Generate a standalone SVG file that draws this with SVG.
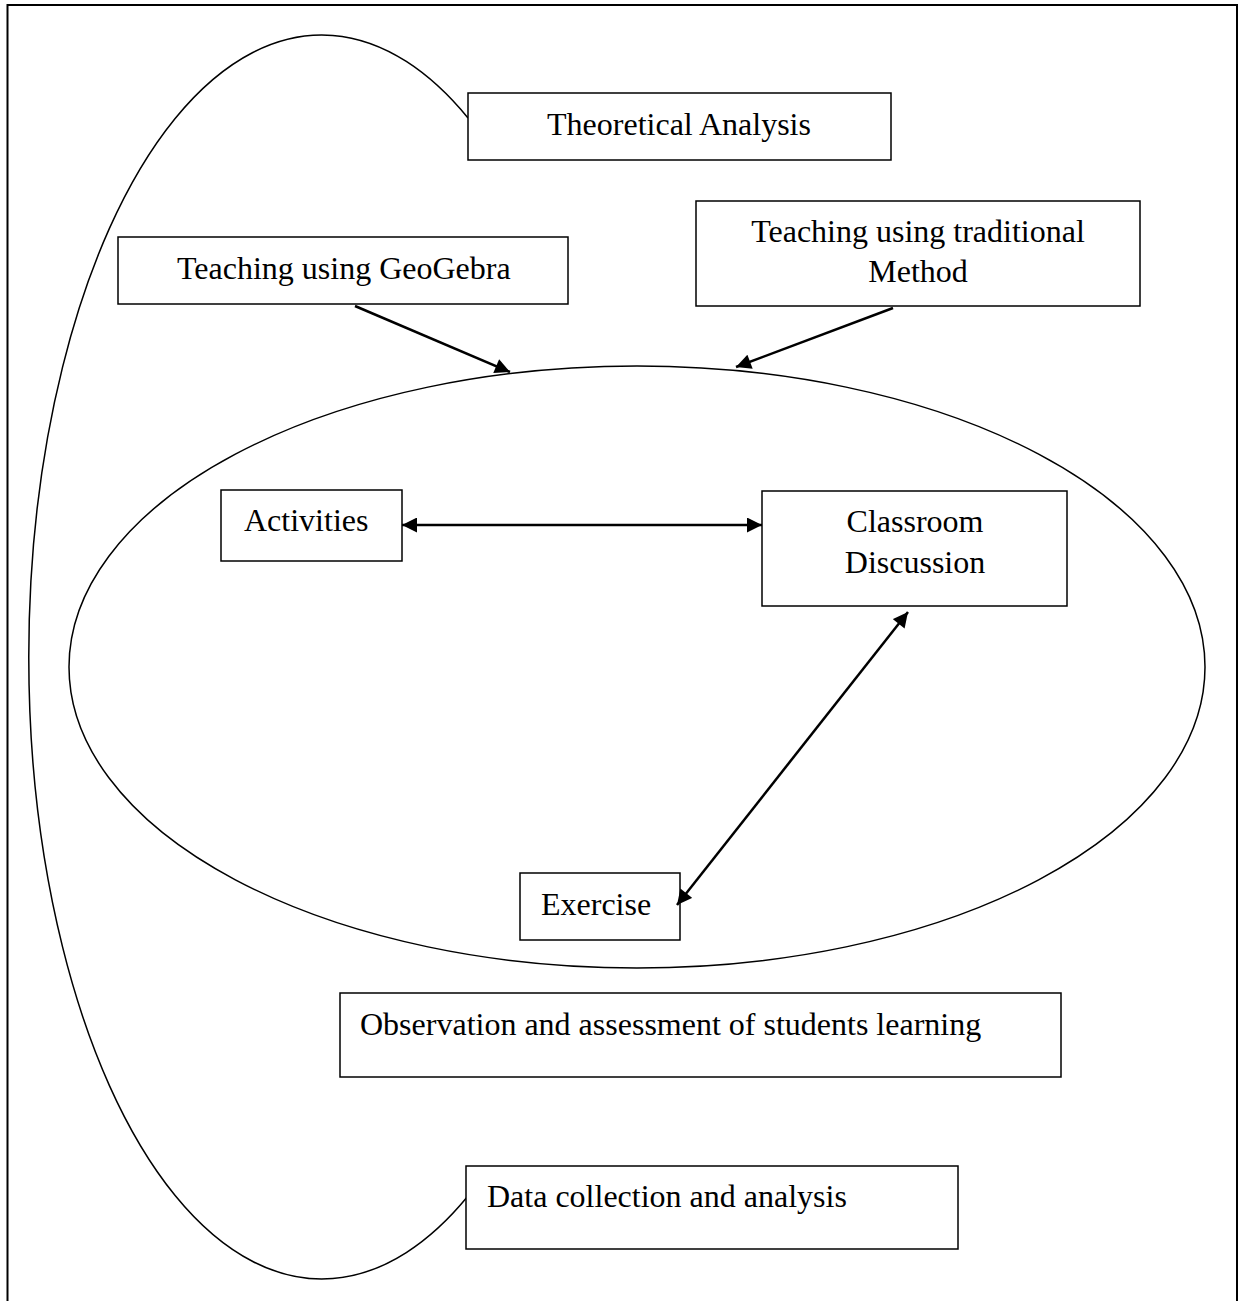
<svg xmlns="http://www.w3.org/2000/svg" width="1246" height="1301" viewBox="0 0 1246 1301">
<style>
.box{fill:#fff;stroke:#000;stroke-width:1.5}
.t{font-family:"Liberation Serif","Times New Roman",serif;font-size:32px;fill:#000}
.c{stroke:#000;stroke-width:2.5;fill:none}
.thin{stroke:#000;stroke-width:1.5;fill:none}
</style>
<defs>
<marker id="ah" viewBox="0 0 10 10" refX="10" refY="5" markerWidth="6.5" markerHeight="6" markerUnits="strokeWidth" orient="auto-start-reverse">
<path d="M0,0 L10,5 L0,10 z" fill="#000"/>
</marker>
</defs>
<rect width="1246" height="1301" fill="#fff"/>
<path d="M7.5,1301 V5 H1237 V1301" fill="none" stroke="#000" stroke-width="2"/>
<g id="outer-loop">
<path class="thin" d="M468,118 A293,622 0 1 0 468,1196"/>
</g>
<g id="ellipse">
<ellipse class="thin" cx="637" cy="667" rx="568" ry="301"/>
</g>
<g id="theoretical">
<rect class="box" x="468" y="93" width="423" height="67"/>
<text class="t" x="679" y="135" text-anchor="middle">Theoretical Analysis</text>
</g>
<g id="geogebra">
<rect class="box" x="118" y="237" width="450" height="67"/>
<text class="t" x="177" y="279">Teaching using GeoGebra</text>
</g>
<g id="traditional">
<rect class="box" x="696" y="201" width="444" height="105"/>
<text class="t" x="918" y="242" text-anchor="middle">Teaching using traditional</text>
<text class="t" x="918" y="282" text-anchor="middle">Method</text>
</g>
<g id="activities">
<rect class="box" x="221" y="490" width="181" height="71"/>
<text class="t" x="244" y="531">Activities</text>
</g>
<g id="classroom">
<rect class="box" x="762" y="491" width="305" height="115"/>
<text class="t" x="915" y="532" text-anchor="middle">Classroom</text>
<text class="t" x="915" y="573" text-anchor="middle">Discussion</text>
</g>
<g id="exercise">
<rect class="box" x="520" y="873" width="160" height="67"/>
<text class="t" x="541" y="915">Exercise</text>
</g>
<g id="observation">
<rect class="box" x="340" y="993" width="721" height="84"/>
<text class="t" x="360" y="1035">Observation and assessment of students learning</text>
</g>
<g id="datacollection">
<rect class="box" x="466" y="1166" width="492" height="83"/>
<text class="t" x="487" y="1207">Data collection and analysis</text>
</g>
<g id="connectors">
<line class="c" x1="355" y1="306" x2="510" y2="372" marker-end="url(#ah)"/>
<line class="c" x1="893" y1="308" x2="736" y2="367" marker-end="url(#ah)"/>
<line class="c" x1="402" y1="525" x2="762" y2="525" marker-start="url(#ah)" marker-end="url(#ah)"/>
<line class="c" x1="908" y1="612" x2="677" y2="905" marker-start="url(#ah)" marker-end="url(#ah)"/>
</g>
</svg>
